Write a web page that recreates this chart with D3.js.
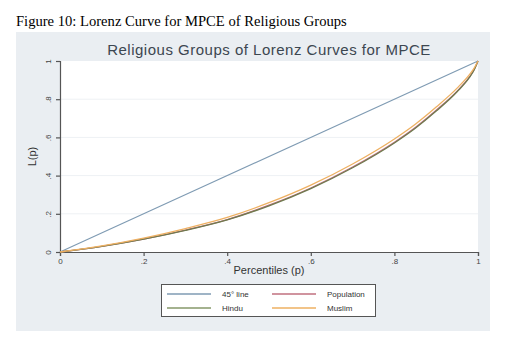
<!DOCTYPE html>
<html>
<head>
<meta charset="utf-8">
<script src="https://cdn.jsdelivr.net/npm/d3@7"></script>
<style>
  body { margin: 0; background: #fff; }
  svg { display: block; }
</style>
</head>
<body>
<svg id="chart" width="525" height="350"></svg>
<script>
// percentiles and Lorenz values
let percentiles = [0, .1, .2, .3, .4, .5, .6, .7, .8, .85, .9, .95, .98, .99, 1]
let population  = [0, .030, .068, .115, .170, .245, .335, .445, .575, .652, .742, .842, .918, .952, 1]
let hindu       = [0, .029, .067, .113, .168, .242, .332, .441, .571, .648, .738, .839, .915, .950, 1]
let muslim      = [0, .032, .073, .123, .181, .258, .350, .461, .592, .669, .759, .858, .930, .960, 1]
let equality    = [0, 1]
let tickValues  = [0, .2, .4, .6, .8, 1]
let legendNames = ['45° line', 'Population', 'Hindu', 'Muslim']

let colors = {
  '45° line': '#7f9bb3',
  'Population': '#c0707f',
  'Hindu': '#86996a',
  'Muslim': '#eeb062'
}

let svg = d3.select('#chart')

// caption above the graph
svg.append('text')
  .attr('x', 16).attr('y', 26)
  .attr('font-family', 'Liberation Serif, Times New Roman, serif')
  .attr('font-size', 14.6)
  .attr('fill', '#000')
  .text('Figure 10: Lorenz Curve for MPCE of Religious Groups')

// graph region background
svg.append('rect')
  .attr('x', 16).attr('y', 32)
  .attr('width', 474).attr('height', 299)
  .attr('fill', '#eaeef2')

let margin = { top: 61, left: 60 }
let width = 418
let height = 191

let x = d3.scaleLinear().domain([0, 1]).range([margin.left, margin.left + width])
let y = d3.scaleLinear().domain([0, 1]).range([margin.top + height, margin.top])

svg.append('rect')
  .attr('x', x(0)).attr('y', y(1))
  .attr('width', width).attr('height', height)
  .attr('fill', '#fff')

// grid lines
svg.append('g')
  .selectAll('line')
  .data(tickValues.slice(1, -1))
  .enter()
  .append('line')
  .attr('x1', x(0)).attr('x2', x(1))
  .attr('y1', d => y(d)).attr('y2', d => y(d))
  .attr('stroke', '#eef1f4')
  .attr('stroke-width', 1)

let fmt = d => d === 0 ? '0' : d === 1 ? '1' : d3.format('.1f')(d).replace(/^0/, '')

// title
svg.append('text')
  .attr('x', (x(0) + x(1)) / 2).attr('y', 55)
  .attr('text-anchor', 'middle')
  .attr('font-family', 'Liberation Sans, Arial, sans-serif')
  .attr('font-size', 15)
  .attr('letter-spacing', 0.5)
  .attr('fill', '#3c4650')
  .text('Religious Groups of Lorenz Curves for MPCE')

// axes
let xAxis = svg.append('g')
  .attr('transform', 'translate(0,' + y(0) + ')')
  .call(d3.axisBottom(x).tickValues(tickValues).tickFormat(fmt).tickSize(4).tickPadding(2))

let yAxis = svg.append('g')
  .attr('transform', 'translate(' + x(0) + ',0)')
  .call(d3.axisLeft(y).tickValues(tickValues).tickFormat(fmt).tickSize(4).tickPadding(2))

svg.selectAll('.domain, .tick line').attr('stroke', '#555').attr('stroke-width', 1.2)
svg.selectAll('.tick text')
  .attr('font-family', 'Liberation Sans, Arial, sans-serif')
  .attr('font-size', 8)
  .attr('fill', '#444')

yAxis.selectAll('.tick text')
  .attr('transform', 'rotate(-90)')
  .attr('x', 0).attr('y', -9)
  .attr('dy', '0')
  .attr('text-anchor', 'middle')

svg.append('text')
  .attr('transform', 'translate(36,' + (y(0.5)) + ') rotate(-90)')
  .attr('text-anchor', 'middle')
  .attr('font-family', 'Liberation Sans, Arial, sans-serif')
  .attr('font-size', 11)
  .attr('fill', '#333')
  .text('L(p)')

svg.append('text')
  .attr('x', (x(0) + x(1)) / 2).attr('y', 274)
  .attr('text-anchor', 'middle')
  .attr('font-family', 'Liberation Sans, Arial, sans-serif')
  .attr('font-size', 11)
  .attr('fill', '#333')
  .text('Percentiles (p)')

// lines
let line = d3.line()
  .x(d => x(d[0]))
  .y(d => y(d[1]))
  .curve(d3.curveMonotoneX)

let series = [
  { name: '45° line', values: equality.map(d => [d, d]) },
  { name: 'Population', values: percentiles.map((p, i) => [p, population[i]]) },
  { name: 'Hindu', values: percentiles.map((p, i) => [p, hindu[i]]) },
  { name: 'Muslim', values: percentiles.map((p, i) => [p, muslim[i]]) }
]

svg.append('g')
  .selectAll('path')
  .data(series)
  .enter()
  .append('path')
  .attr('d', d => line(d.values))
  .attr('fill', 'none')
  .attr('stroke', d => d.name === 'Hindu' ? '#6f7a4e' : colors[d.name])
  .attr('stroke-width', d => d.name === '45° line' ? 1.2 : 1.3)

// legend
let legend = svg.append('g')
legend.append('rect')
  .attr('x', 161.5).attr('y', 284.5)
  .attr('width', 214).attr('height', 32)
  .attr('fill', '#fff')
  .attr('stroke', '#555')
  .attr('stroke-width', 1)

let legendItems = legend.selectAll('.item')
  .data(legendNames)
  .enter()
  .append('g')
  .attr('class', 'item')
  .attr('transform', (d, i) => 'translate(' + (i % 2 ? 272 : 167) + ',' + (i < 2 ? 294 : 308) + ')')

legendItems.append('line')
  .attr('x1', 0).attr('x2', 44)
  .attr('stroke', d => colors[d])
  .attr('stroke-width', 1.3)

legendItems.append('text')
  .attr('x', 55).attr('dy', '0.35em')
  .attr('font-family', 'Liberation Sans, Arial, sans-serif')
  .attr('font-size', 8)
  .attr('fill', '#333')
  .text(d => d)
</script>
</body>
</html>
